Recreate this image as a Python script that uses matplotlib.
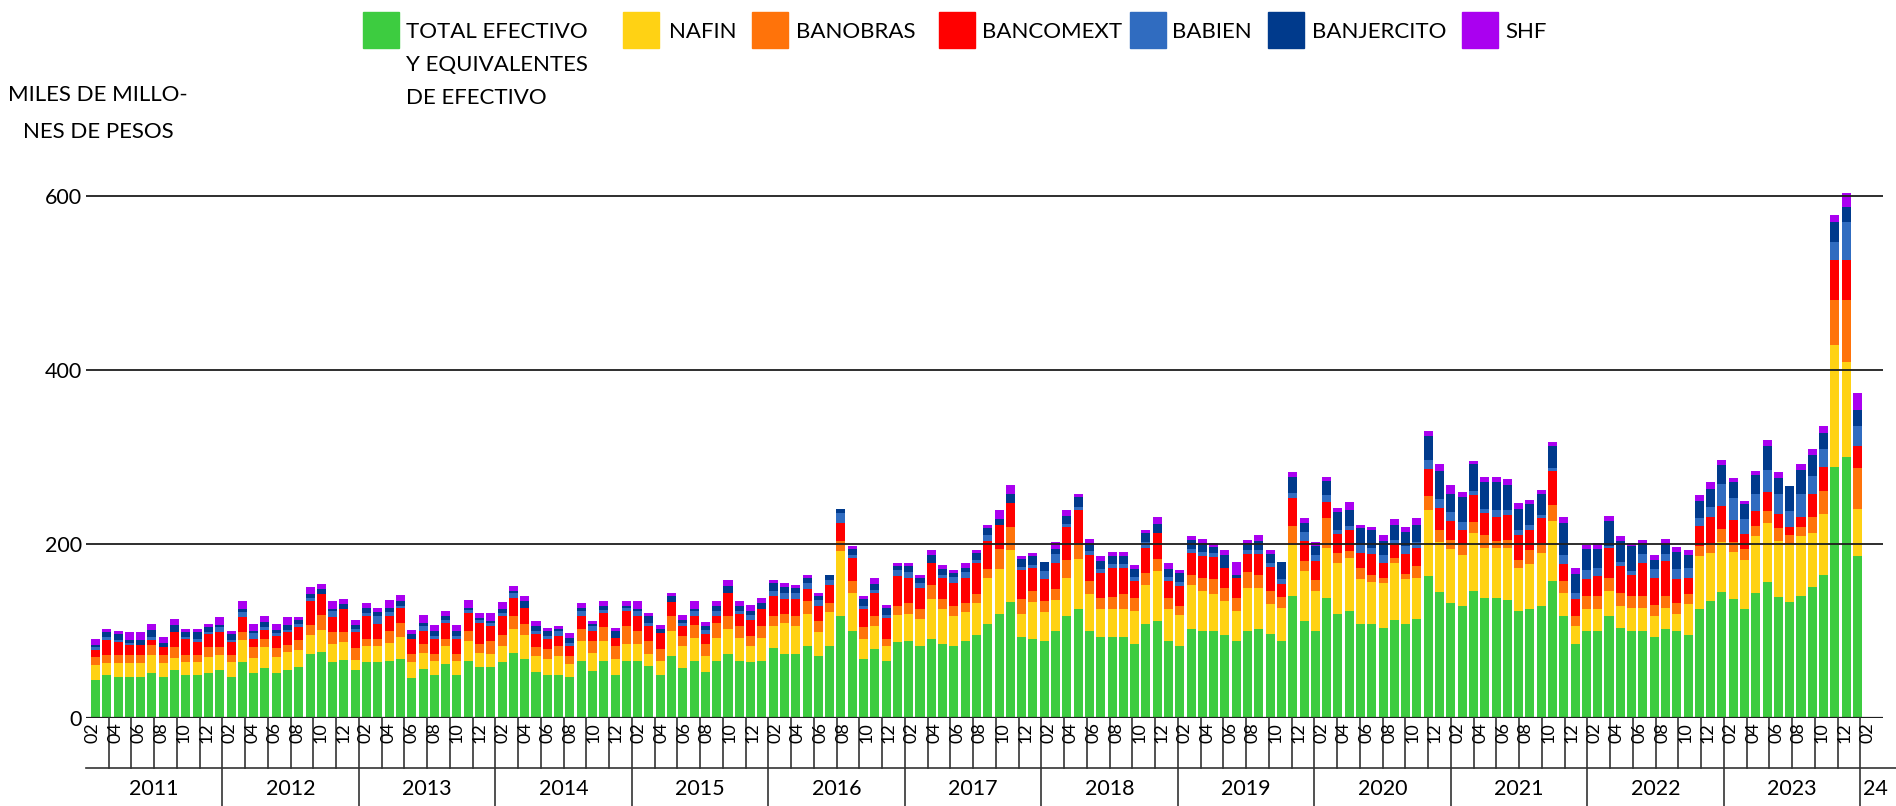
import numpy as np
import matplotlib.pyplot as plt
from matplotlib.patches import Rectangle
from matplotlib.transforms import blended_transform_factory

plt.rcParams['font.family'] = ['Lato', 'DejaVu Sans']

# Monthly balances, feb 2011 - feb 2024 (miles de millones de pesos)
total_efectivo = [44.1, 49.8, 47.5, 47.5, 47.5, 52.1, 47.5, 55.6, 49.8, 49.8, 52.1, 55.6,
                  47.5, 64.8, 52.1, 57.9, 52.1, 55.6, 59.0, 73.9, 76.2, 64.8, 67.0, 55.6,
                  63.8, 63.8, 65.0, 67.3, 46.5, 55.8, 50.0, 61.5, 50.0, 65.0, 58.1, 58.1,
                  63.8, 74.2, 67.3, 52.3, 50.0, 50.0, 47.7, 65.0, 53.5, 65.0, 50.0, 65.0,
                  65.0, 59.2, 50.0, 70.8, 56.9, 65.0, 52.3, 65.0, 73.1, 65.0, 63.8, 65.0,
                  80.0, 73.1, 73.1, 82.3, 70.8, 82.3, 116.9, 99.6, 67.3, 78.8, 65.0, 86.9,
                  88.1, 82.3, 90.4, 84.6, 82.3, 88.1, 95.0, 107.7, 119.2, 133.1, 92.7, 90.4,
                  88.1, 99.6, 116.9, 125.0, 99.6, 92.7, 92.7, 92.7, 84.6, 107.7, 111.2, 88.1,
                  82.3, 101.9, 99.6, 99.6, 95.0, 88.1, 99.6, 101.9, 96.2, 88.1, 140.0, 111.2,
                  99.6, 137.7, 119.2, 122.7, 107.7, 107.7, 103.1, 112.3, 107.7, 113.5, 163.1, 144.6,
                  131.9, 128.5, 145.8, 137.7, 137.7, 135.4, 122.7, 125.0, 128.5, 157.3, 116.9, 84.6,
                  99.6, 99.6, 116.9, 103.1, 99.6, 99.6, 92.7, 101.9, 99.6, 95.0, 125.0, 134.2,
                  144.7, 136.8, 125.0, 143.4, 156.6, 139.5, 132.9, 140.8, 150.4, 164.0, 289.0, 300.4,
                  186.0]
nafin = [17.2, 13.8, 16.1, 16.1, 16.1, 20.7, 16.1, 13.8, 15.0, 15.0, 18.4, 17.2,
         17.3, 25.2, 17.2, 24.1, 18.4, 20.6, 19.5, 21.9, 25.3, 20.6, 20.7, 11.4,
         18.5, 18.5, 20.8, 25.4, 17.3, 18.4, 15.0, 20.8, 15.0, 23.1, 16.1, 15.0,
         18.5, 27.7, 27.7, 18.5, 17.3, 20.8, 13.8, 23.1, 20.7, 23.1, 17.3, 19.6,
         19.6, 13.9, 15.0, 28.8, 25.4, 26.5, 18.5, 26.5, 28.8, 26.5, 18.5, 26.5,
         25.4, 35.7, 32.3, 36.9, 27.7, 39.2, 75.0, 43.9, 23.1, 26.6, 17.3, 31.2,
         31.1, 31.2, 46.1, 40.4, 34.6, 33.4, 36.9, 53.1, 52.0, 60.0, 26.5, 42.7,
         33.4, 35.8, 43.9, 57.7, 42.7, 32.3, 32.3, 32.3, 38.1, 45.0, 57.6, 36.9,
         35.8, 50.8, 46.2, 42.7, 39.2, 34.6, 49.6, 47.3, 34.6, 38.1, 58.8, 57.6,
         46.2, 57.7, 58.9, 61.1, 51.9, 48.5, 51.9, 65.8, 51.9, 47.3, 76.1, 57.7,
         62.3, 58.8, 66.9, 57.7, 57.7, 60.0, 49.6, 51.9, 61.1, 69.2, 26.6, 20.8,
         25.4, 25.4, 28.9, 25.4, 26.6, 26.6, 24.2, 24.3, 19.6, 35.8, 61.2, 55.4,
         57.9, 54.0, 56.6, 65.8, 67.1, 64.4, 66.7, 68.4, 62.3, 70.2, 139.9, 108.4,
         53.9]
banobras = [8.8, 9.2, 9.2, 9.2, 9.2, 11.5, 9.2, 12.6, 8.0, 8.0, 11.5, 9.2,
            8.0, 9.2, 12.7, 9.2, 10.3, 8.1, 11.5, 11.5, 17.3, 13.8, 11.5, 13.8,
            8.1, 8.1, 13.8, 16.1, 9.3, 10.4, 8.1, 8.1, 8.1, 11.5, 10.4, 15.0,
            12.7, 15.0, 12.7, 10.4, 11.5, 11.5, 9.3, 13.8, 13.9, 16.1, 15.0, 20.8,
            15.0, 15.0, 13.8, 17.3, 11.5, 15.0, 13.8, 17.3, 15.0, 13.9, 11.5, 13.9,
            11.5, 10.4, 11.5, 15.0, 12.7, 10.4, 11.6, 13.8, 13.8, 11.5, 8.1, 10.4,
            12.7, 11.5, 16.2, 11.5, 11.6, 10.4, 10.4, 10.4, 23.0, 26.5, 17.3, 12.7,
            12.7, 12.7, 20.7, 18.5, 15.0, 12.7, 13.8, 17.3, 15.0, 13.8, 13.9, 12.7,
            10.4, 11.5, 15.0, 17.3, 15.0, 15.0, 18.5, 15.0, 15.0, 12.6, 22.0, 11.6,
            12.7, 34.6, 11.5, 8.1, 12.7, 8.0, 5.8, 5.7, 5.8, 13.8, 16.2, 13.9,
            10.4, 12.7, 12.7, 15.0, 8.1, 9.2, 9.2, 16.2, 11.6, 18.5, 13.8, 11.5,
            15.0, 15.0, 15.0, 15.0, 13.8, 13.8, 12.7, 13.8, 12.7, 11.5, 11.5, 11.6,
            14.5, 11.8, 13.1, 11.9, 14.5, 14.5, 10.9, 10.5, 18.0, 26.3, 51.8, 71.9,
            46.9]
bancomext = [8.4, 17.2, 14.9, 11.5, 11.5, 5.7, 9.2, 17.2, 18.4, 14.9, 14.9, 17.2,
             14.9, 17.3, 9.2, 10.3, 13.8, 14.9, 15.0, 27.6, 24.1, 17.3, 26.5, 18.4,
             26.5, 17.3, 17.3, 17.4, 17.3, 15.0, 17.3, 18.4, 17.3, 20.8, 24.2, 17.3,
             21.9, 20.8, 18.5, 15.0, 11.6, 11.5, 11.5, 15.0, 11.5, 16.2, 9.2, 17.3,
             17.3, 17.3, 18.5, 16.2, 11.6, 10.4, 11.6, 8.1, 26.6, 13.8, 18.5, 19.6,
             23.1, 17.3, 19.6, 13.9, 17.3, 20.8, 20.7, 26.5, 20.8, 26.6, 24.2, 34.6,
             28.9, 24.2, 25.4, 24.3, 26.5, 28.9, 35.8, 32.3, 27.7, 27.7, 33.5, 26.5,
             25.4, 30.0, 38.1, 38.0, 30.0, 28.8, 33.5, 30.0, 19.6, 28.9, 30.0, 19.6,
             23.0, 25.4, 25.4, 25.4, 23.1, 23.1, 20.8, 24.3, 27.7, 15.0, 32.3, 23.1,
             21.9, 18.5, 21.9, 24.3, 17.3, 24.3, 17.3, 16.2, 23.1, 20.8, 31.1, 25.3,
             21.9, 16.2, 31.1, 25.4, 27.7, 28.9, 28.9, 23.1, 28.8, 39.2, 19.6, 19.6,
             19.6, 23.1, 34.6, 31.1, 24.2, 38.1, 31.2, 40.4, 27.7, 18.5, 23.1, 30.0,
             26.3, 25.0, 17.1, 17.1, 21.0, 15.8, 9.2, 11.9, 26.3, 28.5, 45.6, 45.6,
             25.5]
babien = [3.5, 3.5, 2.3, 2.3, 0.0, 3.5, 0.0, 0.0, 2.3, 3.5, 2.3, 5.8,
          2.3, 5.7, 6.9, 3.5, 3.5, 2.3, 3.4, 3.4, 0.0, 6.9, 0.0, 3.5,
          3.5, 9.2, 4.6, 2.3, 0.0, 5.8, 3.4, 3.5, 3.4, 3.4, 3.5, 3.4,
          3.5, 5.8, 0.0, 3.4, 3.4, 5.8, 3.5, 5.8, 5.8, 3.4, 0.0, 3.5,
          5.8, 3.4, 0.0, 0.0, 3.4, 5.8, 4.6, 5.8, 0.0, 3.5, 5.8, 0.0,
          5.8, 7.0, 7.0, 6.9, 6.9, 5.8, 11.6, 3.5, 3.5, 3.4, 3.5, 6.9,
          6.9, 5.8, 0.0, 3.4, 6.9, 6.9, 3.4, 6.9, 0.0, 0.0, 3.5, 3.5,
          9.2, 10.4, 3.5, 3.5, 4.6, 4.7, 4.6, 4.6, 4.6, 6.9, 0.0, 4.6,
          4.7, 4.6, 4.6, 4.6, 0.0, 0.0, 4.6, 4.6, 4.6, 5.8, 5.7, 10.3,
          6.9, 8.0, 4.7, 4.6, 9.2, 6.9, 9.2, 4.6, 9.2, 6.9, 10.4, 10.4,
          10.4, 9.2, 4.7, 4.6, 8.0, 5.7, 5.8, 5.7, 3.5, 3.5, 10.4, 7.0,
          10.4, 9.2, 2.0, 4.6, 4.6, 10.4, 10.4, 8.1, 11.6, 11.5, 9.2, 11.5,
          25.0, 25.0, 17.1, 19.7, 26.3, 23.7, 18.5, 26.3, 20.6, 20.6, 20.6, 43.4,
          23.7]
banjercito = [2.3, 5.7, 6.9, 3.4, 5.7, 8.0, 4.6, 8.0, 5.7, 8.0, 5.8, 2.3,
              6.9, 3.5, 2.3, 5.7, 3.4, 5.8, 4.6, 4.6, 5.8, 2.3, 5.7, 4.6,
              5.8, 4.6, 4.7, 5.7, 5.8, 3.4, 5.8, 4.6, 5.8, 2.4, 2.3, 2.4,
              4.6, 2.3, 8.0, 5.8, 5.8, 2.3, 5.7, 3.5, 2.3, 4.7, 8.1, 2.3,
              2.3, 8.1, 4.6, 6.9, 3.5, 2.3, 4.6, 5.8, 8.0, 5.8, 4.6, 6.9,
              9.2, 6.9, 5.7, 5.8, 4.6, 5.7, 4.6, 6.9, 8.0, 6.9, 8.1, 4.6,
              6.9, 5.8, 9.2, 7.0, 4.6, 4.6, 8.1, 8.1, 6.9, 10.4, 9.2, 10.4,
              10.4, 5.7, 9.2, 11.5, 9.3, 9.2, 9.3, 9.3, 9.3, 10.4, 10.4, 9.3,
              10.3, 10.4, 10.4, 6.9, 15.0, 3.4, 8.1, 10.4, 10.4, 19.6, 18.5, 10.4,
              10.4, 16.2, 20.7, 18.4, 19.7, 20.8, 16.2, 17.3, 16.1, 19.6, 27.7, 32.3,
              20.8, 28.8, 31.1, 31.1, 32.3, 28.9, 24.2, 24.3, 24.2, 25.4, 36.9, 21.9,
              24.2, 21.9, 28.8, 24.3, 28.9, 12.7, 10.3, 11.5, 19.6, 15.0, 19.6, 20.8,
              22.4, 18.4, 17.1, 21.0, 27.7, 17.5, 28.9, 27.6, 24.2, 18.5, 22.8, 17.1,
              18.4]
shf = [6.9, 3.5, 3.5, 9.2, 9.2, 6.9, 6.9, 6.9, 3.5, 3.5, 3.4, 9.2,
       3.5, 9.2, 8.0, 6.9, 6.9, 9.2, 3.5, 8.1, 5.7, 9.2, 5.8, 5.7,
       5.7, 4.7, 9.2, 7.0, 4.6, 9.3, 6.9, 5.8, 6.9, 9.2, 5.8, 9.2,
       8.1, 5.7, 5.8, 5.8, 3.5, 3.5, 5.8, 5.7, 3.5, 5.7, 3.5, 5.7,
       9.2, 3.5, 4.6, 3.5, 5.8, 9.2, 4.6, 5.7, 7.0, 5.7, 6.9, 5.8,
       3.5, 4.6, 3.5, 3.4, 3.5, 0.0, 0.0, 3.5, 3.5, 7.0, 3.4, 3.5,
       3.5, 3.4, 5.8, 4.6, 3.5, 5.8, 3.5, 3.4, 10.4, 10.4, 3.5, 3.4,
       0.0, 8.1, 6.9, 3.5, 4.6, 5.8, 4.6, 4.6, 4.6, 3.5, 8.1, 6.9,
       3.5, 4.6, 4.6, 4.7, 5.8, 15.0, 3.4, 6.9, 4.6, 0.0, 5.8, 5.8,
       4.6, 4.6, 4.6, 9.3, 3.4, 3.4, 6.9, 6.9, 5.8, 8.1, 5.8, 8.1,
       10.4, 5.8, 3.5, 5.8, 5.8, 6.9, 6.9, 4.6, 4.6, 4.6, 7.0, 6.9,
       4.6, 7.0, 5.8, 5.7, 3.5, 3.4, 5.8, 5.8, 5.7, 5.8, 6.9, 8.0,
       5.3, 5.3, 4.0, 5.3, 6.5, 7.5, 0.0, 7.0, 7.8, 7.9, 8.4, 16.3,
       19.7]

series = [total_efectivo, nafin, banobras, bancomext, babien, banjercito, shf]
names = ['TOTAL EFECTIVO\nY EQUIVALENTES\nDE EFECTIVO', 'NAFIN', 'BANOBRAS',
         'BANCOMEXT', 'BABIEN', 'BANJERCITO', 'SHF']
colors = ['#3dcc40', '#ffd214', '#ff730a', '#ff0000', '#306cc0', '#003a8c', '#aa00f0']

month_labels = ['02', '04', '06', '08', '10', '12']
years = ['2011', '2012', '2013', '2014', '2015', '2016', '2017',
         '2018', '2019', '2020', '2021', '2022', '2023', '24']

W, H = 1896, 806
fig = plt.figure(figsize=(W / 100, H / 100), dpi=100)


# pixel helpers (pixels measured from top-left)
def fx(px):
    return px / W


def fy(py):
    return 1 - py / H


# Main bar axes
ax = fig.add_axes([fx(86), fy(718), fx(1883) - fx(86), (718 - 178.6) / H])
x = np.arange(len(total_efectivo))
bottom = np.zeros(len(x))
for vals, c in zip(series, colors):
    ax.bar(x, vals, width=0.8, bottom=bottom, color=c, linewidth=0, zorder=2)
    bottom += np.array(vals)

ax.set_xlim(-0.84, 158.26)
ax.set_ylim(0, 620)
for v in [200, 400, 600]:
    ax.axhline(v, color='#1e1e1e', lw=1.3, zorder=3)
ax.axhline(0, color='#1e1e1e', lw=1.6, zorder=3)
ax.set_xticks([])
ax.set_yticks([0, 200, 400, 600])
ax.tick_params(axis='y', length=0, pad=3, labelsize=15.5)
for s in ax.spines.values():
    s.set_visible(False)

# Category axis below: months in pairs, years
lab = fig.add_axes(ax.get_position(), frameon=False)
lab.set_xlim(0, 158)
lab.set_ylim(0, 1)
lab.axis('off')
tr = blended_transform_factory(lab.transData, fig.transFigure)
line_kw = dict(transform=tr, color='#333333', lw=1.2, clip_on=False)

for k, yr in enumerate(years):
    start = 12 * k
    n = 12 if k < len(years) - 1 else 2
    if k > 0:
        lab.plot([start, start], [fy(718), fy(806)], **line_kw)
    for j in range(n // 2):
        if j > 0:
            lab.plot([start + 2 * j, start + 2 * j], [fy(718), fy(768)], **line_kw)
        lab.text(start + 2 * j + 0.6, fy(733), month_labels[j], rotation=90,
                 ha='center', va='center', fontsize=13, transform=tr)
    lab.text(start + n / 2 + (0.3 if n == 2 else 0), fy(795), yr, ha='center',
             va='baseline', fontsize=15.5, transform=tr)
lab.plot([0, 161], [fy(768), fy(768)], **line_kw)

# Y axis title
fig.text(fx(98), fy(101), 'MILES DE MILLO-', ha='center', va='baseline', fontsize=16)
fig.text(fx(98), fy(138), 'NES DE PESOS', ha='center', va='baseline', fontsize=16)

# Legend drawn by hand
sq_left = [363, 623, 752, 939, 1130, 1268, 1462]
txt_left = [406, 669, 796, 982, 1172, 1312, 1505]
for name, c, sx, tx in zip(names, colors, sq_left, txt_left):
    fig.patches.append(Rectangle((fx(sx), fy(48)), fx(36), 36 / H,
                                 transform=fig.transFigure, color=c))
    for li, line in enumerate(name.split('\n')):
        fig.text(fx(tx), fy(38 + 33 * li), line, ha='left', va='baseline', fontsize=16)

fig.savefig('out.png', dpi=100)
